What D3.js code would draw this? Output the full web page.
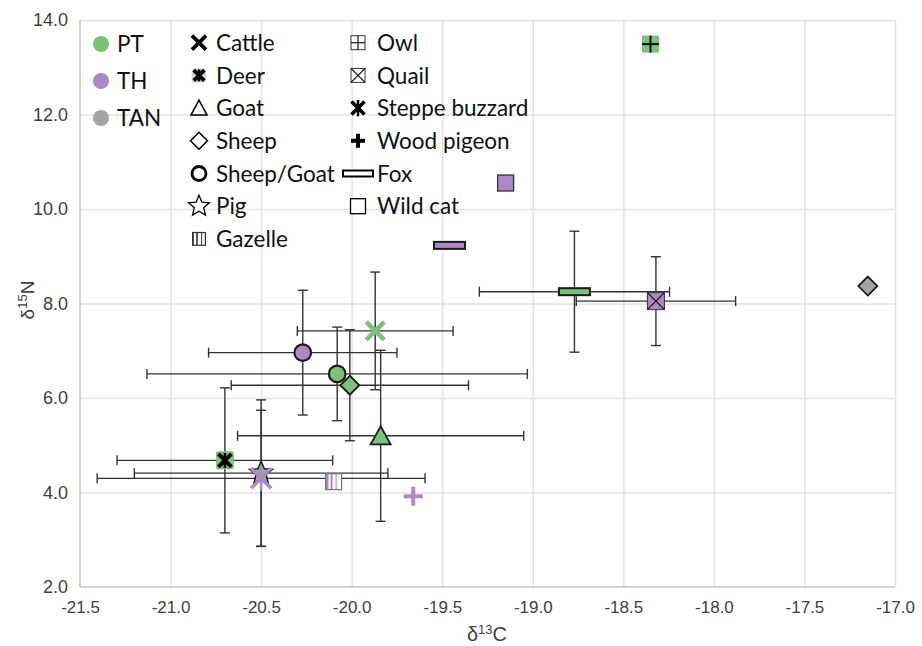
<!DOCTYPE html>
<html><head><meta charset="utf-8">
<script src="https://cdn.jsdelivr.net/npm/d3@7"></script>
<style>body{margin:0;background:#fff}</style>
</head><body>
<svg id="c" width="922" height="646"></svg>
<script>
// ---- data ----
const sites    = ["PT","PT","PT","PT","PT","PT","PT","PT","TH","TH","TH","TH","TH","TH","TH","TAN"];
const species  = ["Owl","Cattle","Sheep/Goat","Sheep","Goat","Deer","Pig","Fox","Quail","Wild cat","Fox","Sheep/Goat","Wood pigeon","Steppe buzzard","Gazelle","Sheep"];
const d13C     = [-18.35,-19.87,-20.08,-20.01,-19.84,-20.70,-20.50,-18.77,-18.32,-19.15,-19.46,-20.27,-19.66,-20.50,-20.10,-17.15];
const d15N     = [13.49,7.42,6.51,6.27,5.20,4.68,4.41,8.25,8.05,10.55,9.23,6.96,3.92,4.30,4.23,8.37];
const errC     = [0,0.43,1.05,0.655,0.79,0.595,0.70,0.525,0.44,0,0,0.52,0,0.905,0,0];
const errN     = [0,1.245,0.99,1.175,1.81,1.535,1.55,1.28,0.94,0,0,1.32,0,1.44,0,0];
const siteNames = ["PT","TH","TAN"];
const legendCol1 = ["Cattle","Deer","Goat","Sheep","Sheep/Goat","Pig","Gazelle"];
const legendCol2 = ["Owl","Quail","Steppe buzzard","Wood pigeon","Fox","Wild cat"];
const xTicks = [-21.5,-21.0,-20.5,-20.0,-19.5,-19.0,-18.5,-18.0,-17.5,-17.0];
const yTicks = [2,4,6,8,10,12,14];

// ---- styles ----
const siteColor = {PT:"#7cc27a", TH:"#ad87c6", TAN:"#a5a5a5"};
const shapeOf = {"Cattle":"x","Deer":"deer","Goat":"triangle","Sheep":"diamond","Sheep/Goat":"circle","Pig":"star",
  "Gazelle":"gazelle","Owl":"owl","Quail":"quail","Steppe buzzard":"asterisk","Wood pigeon":"plus","Fox":"fox","Wild cat":"square"};

const svg = d3.select("#c");
const L=80,R=895,T=20,B=587;
const x = d3.scaleLinear().domain([-21.5,-17]).range([L,R]);
const y = d3.scaleLinear().domain([2,14]).range([B,T]);
const fmt = d => d.toFixed(1);

const defs = svg.append("defs");
function stripes(id, col){
  const p = defs.append("pattern").attr("id",id).attr("patternUnits","userSpaceOnUse").attr("width",16).attr("height",16).attr("x",-8).attr("y",-8);
  p.append("rect").attr("width",16).attr("height",16).attr("fill","#fff");
  [[0,3],[5,2],[10,1.2]].forEach(([o,w])=>p.append("rect").attr("x",o).attr("width",w).attr("height",16).attr("fill",col));
}
stripes("gzTH", siteColor.TH);
stripes("gzLeg", "#555");

// grid
const gx = svg.append("g").attr("transform",`translate(0,${B})`)
  .call(d3.axisBottom(x).tickValues(xTicks.slice(1)).tickSize(-(B-T)).tickFormat(""));
gx.select(".domain").remove();
gx.selectAll("line").attr("stroke","#e3e3e3").attr("stroke-width",1.5);
const gy = svg.append("g").attr("transform",`translate(${L},0)`)
  .call(d3.axisLeft(y).tickValues(yTicks.slice(1)).tickSize(-(R-L)).tickFormat(""));
gy.select(".domain").remove();
gy.selectAll("line").attr("stroke","#e3e3e3").attr("stroke-width",1.5);

// axes lines + labels
svg.append("line").attr("x1",L).attr("x2",L).attr("y1",T).attr("y2",B).attr("stroke","#c4c4c4").attr("stroke-width",1.5);
svg.append("line").attr("x1",L).attr("x2",R).attr("y1",B).attr("y2",B).attr("stroke","#c4c4c4").attr("stroke-width",1.5);
const ax = svg.append("g").attr("transform",`translate(0,${B})`)
  .call(d3.axisBottom(x).tickValues(xTicks).tickSize(0).tickPadding(14).tickFormat(fmt));
ax.select(".domain").remove();
ax.selectAll("text").attr("font-family","'Liberation Sans',Arial").attr("font-size",17).attr("fill","#404040");
const ay = svg.append("g").attr("transform",`translate(${L},0)`)
  .call(d3.axisLeft(y).tickValues(yTicks).tickSize(0).tickPadding(12).tickFormat(fmt));
ay.select(".domain").remove();
ay.selectAll("text").attr("font-family","'Liberation Sans',Arial").attr("font-size",18).attr("fill","#404040");

const xt = svg.append("text").attr("x",487).attr("y",641).attr("text-anchor","middle")
  .attr("font-family","'Liberation Sans',Arial").attr("font-size",20).attr("fill","#404040");
xt.append("tspan").text("δ");
xt.append("tspan").attr("dy",-7).attr("font-size",13).text("13");
xt.append("tspan").attr("dy",7).text("C");
const yt = svg.append("text").attr("transform","translate(34,300) rotate(-90)").attr("text-anchor","middle")
  .attr("font-family","'Liberation Sans',Arial").attr("font-size",19).attr("fill","#404040");
yt.append("tspan").text("δ");
yt.append("tspan").attr("dy",-7).attr("font-size",13).text("15");
yt.append("tspan").attr("dy",7).text("N");

// marker drawing
function starPath(r){
  let p=[];
  for(let i=0;i<10;i++){const a=-Math.PI/2+i*Math.PI/5; const rr=i%2?r*0.45:r; p.push([rr*Math.cos(a),rr*Math.sin(a)]);}
  return "M"+p.map(q=>q.join(",")).join("L")+"Z";
}
function marker(g, shape, fill, legend){
  const line=(x1,y1,x2,y2,c,w)=>g.append("line").attr("x1",x1).attr("y1",y1).attr("x2",x2).attr("y2",y2).attr("stroke",c).attr("stroke-width",w);
  const ol = legend ? "#000" : "#1a1a1a";
  const f = legend ? "#fff" : fill;
  const sc = legend ? 0.8 : 1;
  switch(shape){
    case "x": { const h=(legend?7:9); const c=legend?"#000":fill; line(-h,-h,h,h,c,legend?3.8:4.5); line(-h,h,h,-h,c,legend?3.8:4.5); break; }
    case "deer": {
      g.append("rect").attr("x",-9*sc).attr("y",-9*sc).attr("width",18*sc).attr("height",18*sc).attr("rx",2).attr("fill",legend?"#d4d4d4":fill);
      const h=6.5*sc; line(-h,-h,h,h,"#000",3.8); line(-h,h,h,-h,"#000",3.8); line(0,-h*1.15,0,h*1.15,"#000",2.6); break; }
    case "triangle": g.append("path").attr("d",legend?"M0,-8L8,7L-8,7Z":"M0,-9.5L10,8.5L-10,8.5Z").attr("fill",f).attr("stroke",ol).attr("stroke-width",legend?1.5:1.8); break;
    case "diamond": { const h=legend?8.5:9.5; g.append("path").attr("d",`M0,${-h}L${h},0L0,${h}L${-h},0Z`).attr("fill",f).attr("stroke",ol).attr("stroke-width",legend?1.5:1.8); break; }
    case "circle": g.append("circle").attr("r",legend?7:8.3).attr("fill",f).attr("stroke",ol).attr("stroke-width",legend?2.8:2.2); break;
    case "star": g.append("path").attr("d",starPath(legend?11:12)).attr("fill",f).attr("stroke",ol).attr("stroke-width",legend?1.3:1.5); break;
    case "gazelle": g.append("rect").attr("x",-8*sc).attr("y",-8*sc).attr("width",16*sc).attr("height",16*sc).attr("fill",legend?"url(#gzLeg)":"url(#gzTH)").attr("stroke",legend?"#333":"#777").attr("stroke-width",1.2); break;
    case "owl": { const s=legend?7:8.5; g.append("rect").attr("x",-s).attr("y",-s).attr("width",2*s).attr("height",2*s).attr("fill",f).attr("stroke",legend?"#333":"none").attr("stroke-width",1);
      line(-s,0,s,0,"#111",legend?1.2:2); line(0,-s,0,s,"#111",legend?1.2:2); break; }
    case "quail": { const s=legend?7:8.5; g.append("rect").attr("x",-s).attr("y",-s).attr("width",2*s).attr("height",2*s).attr("fill",f).attr("stroke","#333").attr("stroke-width",1);
      line(-s,-s,s,s,"#111",1.2); line(-s,s,s,-s,"#111",1.2); break; }
    case "asterisk": { const h=legend?6.5:10; const c=legend?"#000":fill; const w=3.5;
      line(-h,-h,h,h,c,w); line(-h,h,h,-h,c,w); line(0,-h*1.25,0,h*1.25,c,2.5); break; }
    case "plus": { const h=legend?7:9.5; const c=legend?"#000":fill; line(-h,0,h,0,c,4); line(0,-h,0,h,c,4); break; }
    case "fox": { const w=legend?30:31, hh=legend?6:7; g.append("rect").attr("x",-w/2).attr("y",-hh/2).attr("width",w).attr("height",hh).attr("fill",f).attr("stroke",ol).attr("stroke-width",2); break; }
    case "square": { const s=legend?7.5:8; g.append("rect").attr("x",-s).attr("y",-s).attr("width",2*s).attr("height",2*s).attr("fill",f).attr("stroke",legend?"#000":"#333").attr("stroke-width",1.3); break; }
  }
}

// data rows
const rows = species.map((s,i)=>({s, site:sites[i], c:d13C[i], n:d15N[i], ec:errC[i], en:errN[i]}));

// error bars
const eb = svg.append("g").attr("stroke","#333").attr("stroke-width",1.4);
rows.filter(d=>d.ec>0||d.en>0).forEach(d=>{
  const cx=x(d.c), cy=y(d.n);
  if(d.ec>0){
    const x1=x(d.c-d.ec), x2=x(d.c+d.ec);
    eb.append("line").attr("x1",x1).attr("x2",x2).attr("y1",cy).attr("y2",cy);
    [x1,x2].forEach(xx=>eb.append("line").attr("x1",xx).attr("x2",xx).attr("y1",cy-5).attr("y2",cy+5));
  }
  if(d.en>0){
    const y1=y(d.n+d.en), y2=y(d.n-d.en);
    eb.append("line").attr("x1",cx).attr("x2",cx).attr("y1",y1).attr("y2",y2);
    [y1,y2].forEach(yy=>eb.append("line").attr("x1",cx-5).attr("x2",cx+5).attr("y1",yy).attr("y2",yy));
  }
});

// markers
rows.forEach(d=>{
  const g=svg.append("g").attr("transform",`translate(${x(d.c)},${y(d.n)})`);
  marker(g, shapeOf[d.s], siteColor[d.site], false);
});

// legend
const font = "Lato,'Noto Sans',sans-serif";
const fs = 22.5;
siteNames.forEach((s,i)=>{
  const yy = 44 + i*37;
  svg.append("circle").attr("cx",101).attr("cy",yy).attr("r",8).attr("fill",siteColor[s]);
  svg.append("text").attr("x",117).attr("y",yy).attr("dy","0.36em").attr("font-family",font).attr("font-size",fs).attr("fill","#111").text(s);
});
legendCol1.forEach((s,i)=>{
  const yy = 42.7 + i*32.7;
  marker(svg.append("g").attr("transform",`translate(199,${yy})`), shapeOf[s], null, true);
  svg.append("text").attr("x",216).attr("y",yy).attr("dy","0.36em").attr("font-family",font).attr("font-size",fs).attr("fill","#111").text(s);
});
legendCol2.forEach((s,i)=>{
  const yy = 42.7 + i*32.7;
  marker(svg.append("g").attr("transform",`translate(358,${yy})`), shapeOf[s], null, true);
  svg.append("text").attr("x",377).attr("y",yy).attr("dy","0.36em").attr("font-family",font).attr("font-size",fs).attr("fill","#111").text(s);
});
</script>
</body></html>
